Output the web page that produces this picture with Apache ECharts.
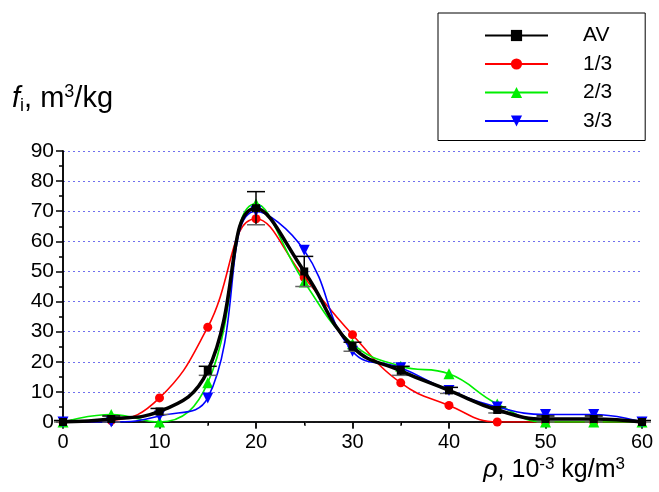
<!DOCTYPE html>
<html><head><meta charset="utf-8">
<script src="https://cdn.jsdelivr.net/npm/echarts@6/dist/echarts.min.js"></script>
<style>html,body{margin:0;padding:0;background:#fff}#c{width:659px;height:492px}</style>
</head><body><div id="c"></div>
<script>
const xs = [0,5,10,15,20,25,30,35,40,45,50,55,60];
const av = [0,1,3.5,17,71,50,25,17,10.5,4,1,1,0];
const avErr = [0.5,1,1,1.5,5.5,5,1.5,1.5,1,1,1,1,0.5];
const s1 = [0,0.5,8,31.5,67.5,48,29,13,5.5,0,0,0,0];
const s2 = [0,2.5,0,13,72.5,46.5,26,18.5,16,6,0,0,0];
const s3 = [0,0,2,8,70,57,23.5,18,10.5,5,2.5,2.5,0];
const seriesNames = ['AV','1/3','2/3','3/3'];
const yTicks = [0,10,20,30,40,50,60,70,80,90];
const xTicks = [0,10,20,30,40,50,60];

const pair = arr => xs.map((x,i)=>[x,arr[i]]);
const font = 'Liberation Sans, Arial, sans-serif';
const chart = echarts.init(document.getElementById('c'));
const invTri = 'path://M0,0L10,0L5,9Z';
const lineS = (name, data, color, sym, size, w, z) => ({
  name, type:'line', data: pair(data), smooth:0.45, symbol:sym, symbolSize:size,
  lineStyle:{color, width:w}, itemStyle:{color}, z, xAxisIndex:0, yAxisIndex:0
});
chart.setOption({
  animation:false,
  textStyle:{fontFamily:font},
  grid:{left:63, right:17, top:151, bottom:70, containLabel:false, outerBoundsMode:'none'},
  legend:{
    orient:'vertical', left:438, top:13,
    data:seriesNames, itemWidth:63, itemHeight:14, itemGap:7.5,
    padding:[12,33,9,46], borderColor:'#000', borderWidth:1,
    textStyle:{fontSize:21, color:'#000', padding:[0,0,0,30], fontFamily:font}
  },
  xAxis:[{
    type:'value', min:0, max:60, interval:10, position:'bottom',
    axisLine:{lineStyle:{color:'#333', width:1.5}},
    axisTick:{show:true, inside:false, length:7, lineStyle:{color:'#333', width:1.5}},
    minorTick:{show:true, splitNumber:2, length:4, lineStyle:{color:'#333', width:1.5}},
    axisLabel:{fontSize:20, color:'#000', margin:10, fontFamily:font, formatter:v=>xTicks.includes(v)?String(v):''},
    splitLine:{show:false},
    name:'{i|ρ}{n|, 10}{s|-3}{n| kg/m}{s|3}', nameLocation:'end', nameGap:0,
    nameTextStyle:{color:'#000', align:'right', verticalAlign:'top', padding:[34,17,0,0],
      rich:{i:{fontSize:25, fontStyle:'italic', fontFamily:font, color:'#000'}, n:{fontSize:25, fontFamily:font, color:'#000'},
            s:{fontSize:17, verticalAlign:'top', padding:[0,0,12,0], fontFamily:font, color:'#000'}}}
  },{
    type:'value', min:0, max:60, interval:10, position:'top',
    axisLine:{lineStyle:{color:'#000', width:1.5}},
    axisTick:{show:true, inside:true, length:6, lineStyle:{color:'#000', width:1.5}},
    minorTick:{show:true, splitNumber:2, length:3},
    axisLabel:{show:false}, splitLine:{show:false}
  }],
  yAxis:[{
    type:'value', min:0, max:90, interval:10, position:'left',
    axisLine:{show:true, lineStyle:{color:'#000', width:1.5}},
    axisTick:{show:true, inside:false, length:7, lineStyle:{color:'#000', width:1.5}},
    minorTick:{show:true, splitNumber:2, length:4, lineStyle:{color:'#000', width:1.5}},
    axisLabel:{fontSize:21, color:'#000', margin:9, fontFamily:font, formatter:v=>yTicks.includes(v)?String(v):''},
    splitLine:{show:true, lineStyle:{color:'#7070ee', type:[2,3], width:1}},
    name:'{f|f}{sub|i}{n|, m}{s|3}{n|/kg}', nameLocation:'end', nameGap:0,
    nameTextStyle:{color:'#000', align:'left', verticalAlign:'bottom', padding:[0,0,36,-51],
      rich:{f:{fontSize:29, fontStyle:'italic', fontFamily:font, color:'#000'}, n:{fontSize:29, fontFamily:font, color:'#000'},
            sub:{fontSize:18, verticalAlign:'bottom', padding:[12,0,0,0], fontFamily:font, color:'#000'},
            s:{fontSize:18, verticalAlign:'top', padding:[0,0,14,0], fontFamily:font, color:'#000'}}}
  },{
    type:'value', min:0, max:90, interval:10, position:'right',
    axisLine:{show:true, lineStyle:{color:'#000', width:1.5}},
    axisTick:{show:true, inside:true, length:7, lineStyle:{color:'#000', width:1.5}},
    minorTick:{show:true, splitNumber:2, length:4, lineStyle:{color:'#000', width:1.5}},
    axisLabel:{show:false}, splitLine:{show:false}
  }],
  series:[
    {
      name:'err', type:'custom', z:5,
      data: xs.map((x,i)=>[x, av[i], avErr[i]]),
      renderItem:(params, api)=>{
        const x = api.value(0), y = api.value(1), e = api.value(2);
        const top = api.coord([x, y+e]), bot = api.coord([x, Math.max(0,y-e)]);
        const hw = 9;
        const st = {stroke:'#000', lineWidth:1.5};
        return {type:'group', children:[
          {type:'line', shape:{x1:top[0], y1:top[1], x2:bot[0], y2:bot[1]}, style:st},
          {type:'line', shape:{x1:top[0]-hw, y1:top[1], x2:top[0]+hw, y2:top[1]}, style:st},
          {type:'line', shape:{x1:bot[0]-hw, y1:bot[1], x2:bot[0]+hw, y2:bot[1]}, style:{stroke:'#666', lineWidth:1.5}}
        ]};
      }
    },
    lineS('1/3', s1, '#ff0000', 'circle', 9, 1.6, 3),
    lineS('2/3', s2, '#00ee00', 'triangle', 11, 1.6, 3),
    lineS('3/3', s3, '#0000ff', invTri, 11, 1.6, 4),
    lineS('AV', av, '#000000', 'rect', 8, 3.5, 6)
  ]
});
</script></body></html>
